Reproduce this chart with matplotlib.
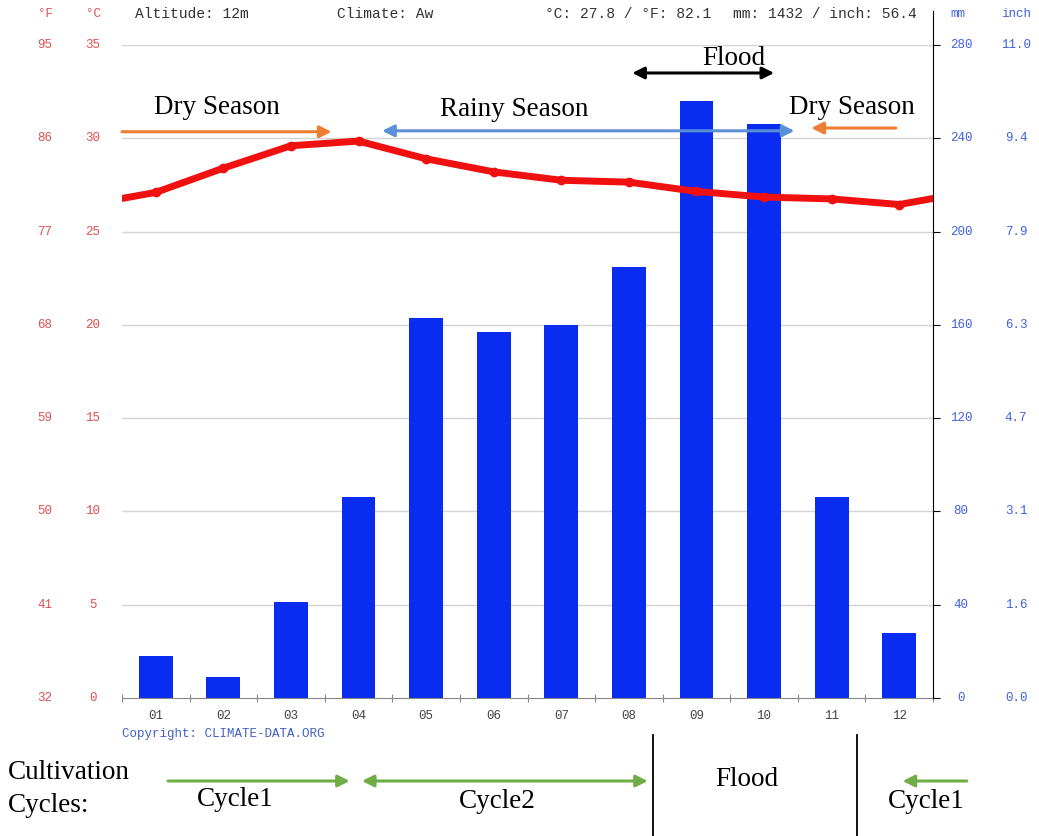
import matplotlib
matplotlib.use("Agg")
import matplotlib.pyplot as plt
import matplotlib.transforms as mtransforms
from matplotlib.lines import Line2D

months = ["01", "02", "03", "04", "05", "06", "07", "08", "09", "10", "11", "12"]
precip_mm = [18, 9, 41, 86, 163, 157, 160, 185, 256, 246, 86, 28]
temp_c = [27.1, 28.4, 29.6, 29.85, 28.9, 28.2, 27.75, 27.65, 27.15, 26.85, 26.75, 26.45]

c_ticks = [0, 5, 10, 15, 20, 25, 30, 35]
f_labels = ["32", "41", "50", "59", "68", "77", "86", "95"]
mm_ticks = [0, 40, 80, 120, 160, 200, 240, 280]
inch_labels = ["0.0", "1.6", "3.1", "4.7", "6.3", "7.9", "9.4", "11.0"]

W, H = 1039, 836
fig = plt.figure(figsize=(W / 100, H / 100), dpi=100)

def fx(px):
    return px / W

def fy(py):
    return 1 - py / H

ax = fig.add_axes([fx(122), fy(698), fx(933) - fx(122), fy(45) - fy(698)])
ax2 = ax.twinx()

x = list(range(1, 13))

# precipitation bars
ax.bar(x, precip_mm, width=0.5, color="#0a2cf0", zorder=2)
ax.set_xlim(0.5, 12.5)
ax.set_ylim(0, 280)
for t in mm_ticks[1:]:
    ax.axhline(t, color="#d4d4d4", lw=1, zorder=1)

# temperature line (wraps Dec -> Jan at the edges)
ax2.plot([0] + x + [13], [temp_c[-1]] + temp_c + [temp_c[0]], color="#f01010",
         lw=5, solid_capstyle="round", zorder=3)
ax2.plot(x, temp_c, "o", color="#f01010", ms=6, zorder=3)
ax2.set_ylim(0, 35)

for a in (ax, ax2):
    a.set_yticks([])
    for s in ["top", "left", "right", "bottom"]:
        a.spines[s].set_visible(False)

ax.spines["bottom"].set_visible(True)
ax.spines["bottom"].set_color("#888888")
ax.set_xticks([i + 0.5 for i in range(0, 13)], minor=False)
ax.set_xticklabels([])
ax.tick_params(axis="x", direction="inout", length=6, color="#888888")
ax2.spines["right"].set_visible(True)
ax2.spines["right"].set_color("black")
ax2.spines["right"].set_bounds(0, 36.8)
ax2.set_yticks(c_ticks)
ax2.set_yticklabels([])
ax2.tick_params(axis="y", direction="out", length=5, color="black", right=True)

mono = "Liberation Mono"
serif = "Liberation Serif"

# month labels
for i, m in enumerate(months):
    ax.text(i + 1, fy(716), m, transform=mtransforms.blended_transform_factory(ax.transData, fig.transFigure),
            ha="center", va="center", family=mono, fontsize=9, color="#444444")

# y labels drawn at pixel columns
tr_left = mtransforms.blended_transform_factory(fig.transFigure, ax2.transData)
for c, f in zip(c_ticks, f_labels):
    ax2.text(fx(45), c, f, transform=tr_left, ha="center", va="center", family=mono, fontsize=9, color="#e05050")
    ax2.text(fx(93), c, str(c), transform=tr_left, ha="center", va="center", family=mono, fontsize=9, color="#e05050")
tr_right = mtransforms.blended_transform_factory(fig.transFigure, ax.transData)
for m, i in zip(mm_ticks, inch_labels):
    ax.text(fx(961), m, str(m), transform=tr_right, ha="center", va="center", family=mono, fontsize=9, color="#4060e0")
    ax.text(fx(1016), m, i, transform=tr_right, ha="center", va="center", family=mono, fontsize=9, color="#4060e0")

# header
fig.text(fx(45), fy(14), "°F", ha="center", va="center", family=mono, fontsize=9, color="#e05050")
fig.text(fx(93), fy(14), "°C", ha="center", va="center", family=mono, fontsize=9, color="#e05050")
fig.text(fx(135), fy(14), "Altitude: 12m", ha="left", va="center", family=mono, fontsize=10.5, color="#333333")
fig.text(fx(337), fy(14), "Climate: Aw", ha="left", va="center", family=mono, fontsize=10.5, color="#333333")
fig.text(fx(545), fy(14), "°C: 27.8 / °F: 82.1", ha="left", va="center", family=mono, fontsize=10.5, color="#333333")
fig.text(fx(733), fy(14), "mm: 1432 / inch: 56.4", ha="left", va="center", family=mono, fontsize=10.5, color="#333333")
fig.text(fx(958), fy(14), "mm", ha="center", va="center", family=mono, fontsize=9, color="#4060e0")
fig.text(fx(1016), fy(14), "inch", ha="center", va="center", family=mono, fontsize=9, color="#4060e0")
fig.text(fx(122), fy(734), "Copyright: CLIMATE-DATA.ORG", ha="left", va="center", family=mono, fontsize=9, color="#4060c0")

# season annotations (x in months, y in deg C)
def arrow(a, x0, x1, y, color, style):
    a.annotate("", xy=(x1, y), xytext=(x0, y), xycoords="data", annotation_clip=False,
               arrowprops=dict(arrowstyle=style, color=color, lw=2.2, shrinkA=0, shrinkB=0), zorder=5)

arrow(ax2, 0.5, 3.6, 30.35, "#ed7d31", "-|>,head_length=0.7,head_width=0.35")
arrow(ax2, 4.35, 10.45, 30.4, "#5b8fd6", "<|-|>,head_length=0.7,head_width=0.35")
arrow(ax2, 11.95, 10.7, 30.55, "#ed7d31", "-|>,head_length=0.7,head_width=0.35")
arrow(ax2, 8.05, 10.15, 33.5, "black", "<|-|>,head_length=0.7,head_width=0.35")
ax2.text(1.9, 31.65, "Dry Season", ha="center", va="center", family=serif, fontsize=19.5, zorder=6)
ax2.text(6.3, 31.55, "Rainy Season", ha="center", va="center", family=serif, fontsize=19.5, zorder=6)
ax2.text(9.55, 34.25, "Flood", ha="center", va="center", family=serif, fontsize=19.5, zorder=6)
ax2.text(11.3, 31.65, "Dry Season", ha="center", va="center", family=serif, fontsize=19.5, zorder=6)

# cultivation cycles below the chart
tr_b = mtransforms.blended_transform_factory(ax.transData, fig.transFigure)
def garrow(x0, x1, style):
    ax.annotate("", xy=(x1, fy(781)), xytext=(x0, fy(781)), xycoords=("data", "figure fraction"),
                textcoords=("data", "figure fraction"), annotation_clip=False,
                arrowprops=dict(arrowstyle=style, color="#70ad47", lw=2.2, shrinkA=0, shrinkB=0))

garrow(1.18, 3.87, "-|>,head_length=0.7,head_width=0.35")
garrow(4.05, 8.28, "<|-|>,head_length=0.7,head_width=0.35")
garrow(13.0, 12.05, "-|>,head_length=0.7,head_width=0.35")

fig.text(fx(8), fy(789), "Cultivation\nCycles:", ha="left", va="center", family=serif, fontsize=19.5, linespacing=1.4)
fig.text(fx(235), fy(800), "Cycle1", ha="center", va="center", family=serif, fontsize=19.5)
fig.text(fx(497), fy(802), "Cycle2", ha="center", va="center", family=serif, fontsize=19.5)
fig.text(fx(747), fy(779), "Flood", ha="center", va="center", family=serif, fontsize=19.5)
fig.text(fx(926), fy(802), "Cycle1", ha="center", va="center", family=serif, fontsize=19.5)

for xv in [8.35, 11.37]:
    fig.add_artist(Line2D([xv, xv], [fy(735), 0], transform=tr_b, color="black", lw=1.3))

fig.savefig("out.png", dpi=100)
